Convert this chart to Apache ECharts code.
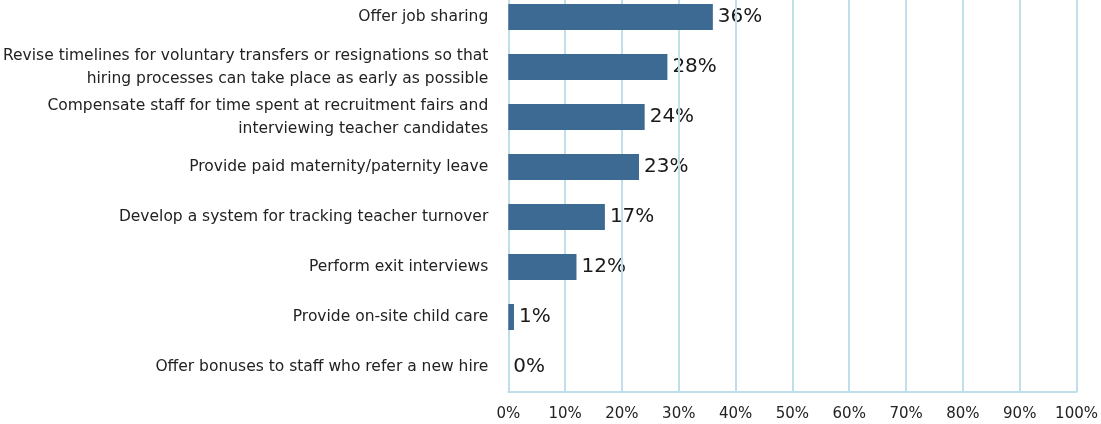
<!DOCTYPE html>
<html><head><meta charset="utf-8">
<script src="https://cdn.jsdelivr.net/npm/echarts@6/dist/echarts.min.js"></script>
<style>html,body{margin:0;padding:0;background:#fff;overflow:hidden}#c{width:1101px;height:432px;margin-top:-8px}</style>
</head><body><div id="c"></div>
<script>
var categories = [
  "Offer job sharing",
  "Revise timelines for voluntary transfers or resignations so that\nhiring processes can take place as early as possible",
  "Compensate staff for time spent at recruitment fairs and\ninterviewing teacher candidates",
  "Provide paid maternity/paternity leave",
  "Develop a system for tracking teacher turnover",
  "Perform exit interviews",
  "Provide on-site child care",
  "Offer bonuses to staff who refer a new hire"
];
var values = [36, 28, 24, 23, 17, 12, 1, 0];
var tickLabels = ["0%","10%","20%","30%","40%","50%","60%","70%","80%","90%","100%"];

var chart = echarts.init(document.getElementById('c'));
var font = "'DejaVu Sans', Verdana, sans-serif";
chart.setOption({
  animation: false,
  grid: {left: 508, right: 23, top: 0, bottom: 32, containLabel: false},
  xAxis: {
    type: 'value', min: 0, max: 100, interval: 10, z: 1,
    axisLine: {show: true, lineStyle: {color: '#bfe0ea', width: 2}},
    axisTick: {show: false},
    splitLine: {show: true, lineStyle: {color: '#bfe0ea', width: 2}},
    axisLabel: {color: '#222', fontSize: 15, fontFamily: font, margin: 15,
      formatter: function(v){ return tickLabels[Math.round(v/10)]; }}
  },
  yAxis: {
    type: 'category', inverse: true, data: categories, z: 1,
    axisLine: {show: true, lineStyle: {color: '#bfe0ea', width: 2}},
    axisTick: {show: false},
    axisLabel: {color: '#222', fontSize: 15.5, fontFamily: font, margin: 20, lineHeight: 23, align: 'right'}
  },
  series: [{
    type: 'bar', data: values, barWidth: 26, z: 2,
    itemStyle: {color: '#3d6a93'}
  }, {
    type: 'bar', data: values, barWidth: 26, barGap: '-100%', z: 0,
    itemStyle: {color: 'rgba(0,0,0,0)'},
    label: {show: true, position: 'right', distance: 5, color: '#1a1a1a', fontSize: 20, fontFamily: font,
      formatter: function(p){ return p.value + '%'; }}
  }]
});
</script></body></html>
